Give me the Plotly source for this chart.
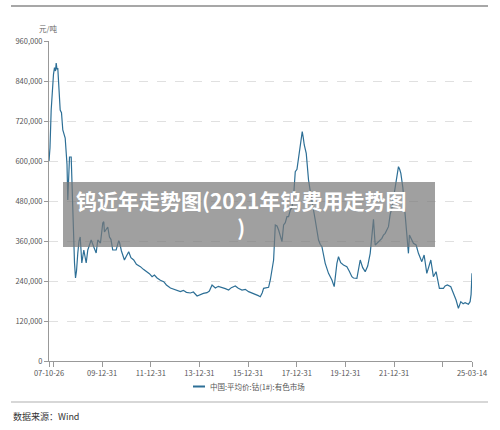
import datetime as dt
import plotly.graph_objects as go

# ---- data ----
# time as decimal years, price in 元/吨
t_years = [2007.817, 2007.857, 2007.906, 2007.960, 2008.001, 2008.042, 2008.083, 2008.112, 2008.144, 2008.177,
           2008.227, 2008.276, 2008.329, 2008.383, 2008.481, 2008.522, 2008.555, 2008.588, 2008.625, 2008.658,
           2008.727, 2008.793, 2008.863, 2008.904, 2008.945, 2008.998, 2009.048, 2009.097, 2009.163, 2009.245,
           2009.343, 2009.409, 2009.479, 2009.548, 2009.655, 2009.754, 2009.819, 2009.930, 2010.025, 2010.066,
           2010.094, 2010.156, 2010.230, 2010.300, 2010.361, 2010.435, 2010.575, 2010.681, 2010.710, 2010.792,
           2010.887, 2010.915, 2010.998, 2011.092, 2011.182, 2011.297, 2011.408, 2011.572, 2011.695, 2011.847,
           2011.942, 2012.053, 2012.147, 2012.258, 2012.393, 2012.529, 2012.640, 2012.804, 2012.927, 2013.050,
           2013.214, 2013.337, 2013.461, 2013.625, 2013.748, 2013.900, 2014.035, 2014.158, 2014.310, 2014.405,
           2014.516, 2014.651, 2014.774, 2014.926, 2015.062, 2015.197, 2015.308, 2015.472, 2015.595, 2015.747,
           2015.883, 2016.018, 2016.129, 2016.293, 2016.416, 2016.498, 2016.580, 2016.634, 2016.745, 2016.839,
           2016.909, 2016.991, 2017.044, 2017.114, 2017.184, 2017.250, 2017.319, 2017.389, 2017.455, 2017.525,
           2017.594, 2017.660, 2017.730, 2017.800, 2017.865, 2017.935, 2018.005, 2018.071, 2018.169, 2018.222,
           2018.264, 2018.305, 2018.387, 2018.481, 2018.551, 2018.621, 2018.756, 2018.892, 2018.961, 2019.031,
           2019.167, 2019.302, 2019.442, 2019.536, 2019.647, 2019.713, 2019.803, 2019.918, 2020.057, 2020.152,
           2020.263, 2020.328, 2020.468, 2020.604, 2020.706, 2020.809, 2020.911, 2021.014, 2021.149, 2021.219,
           2021.342, 2021.494, 2021.560, 2021.630, 2021.765, 2021.835, 2021.905, 2022.040, 2022.110, 2022.176,
           2022.225, 2022.274, 2022.356, 2022.451, 2022.521, 2022.586, 2022.627, 2022.697, 2022.791, 2022.902,
           2022.997, 2023.136, 2023.231, 2023.342, 2023.415, 2023.506, 2023.612, 2023.723, 2023.859, 2024.023,
           2024.093, 2024.187, 2024.327, 2024.433, 2024.544, 2024.639, 2024.737, 2024.832, 2024.914, 2025.049,
           2025.119, 2025.160, 2025.197]
price_k = [600, 640, 753, 834, 860, 880, 870, 894, 875, 879,
           800, 753, 745, 693, 669, 603, 590, 483, 560, 612,
           612, 432, 294, 249, 270, 324, 360, 372, 294, 333,
           294, 333, 350, 363, 342, 324, 363, 354, 414, 418,
           387, 395, 402, 372, 365, 333, 333, 361, 357, 330,
           312, 303, 315, 328, 310, 303, 290, 283, 275, 268,
           262, 253, 258, 249, 242, 238, 228, 219, 215, 212,
           208, 212, 206, 204, 207, 195, 200, 203, 205, 210,
           228, 219, 224, 221, 217, 213, 220, 225, 218, 213,
           215, 208, 205, 201, 196, 193, 205, 218, 220, 221,
           243, 280, 303, 408, 405, 393, 373, 358, 408, 415,
           433, 433, 453, 460, 493, 568, 575, 613, 653, 688,
           670, 648, 623, 543, 510, 483, 423, 363, 350, 343,
           293, 263, 243, 223, 293, 313, 295, 288, 283, 270,
           253, 249, 248, 303, 280, 268, 285, 323, 425, 348,
           358, 368, 378, 383, 403, 440, 458, 523, 563, 583,
           575, 563, 520, 428, 373, 323, 378, 365, 353, 348,
           323, 298, 318, 263, 280, 303, 253, 268, 218, 218,
           225, 228, 223, 203, 183, 158, 178, 172, 175, 170,
           178, 200, 263]

x_tick_dates = ["2007-10-26", "2007-12-31", "2009-12-31", "2011-12-31", "2013-12-31", "2015-12-31",
                "2017-12-31", "2019-12-31", "2021-12-31", "2023-12-31", "2025-03-14"]
x_tick_text = ["07-10-26", "", "09-12-31", "11-12-31", "13-12-31", "15-12-31",
               "17-12-31", "19-12-31", "21-12-31", "", "25-03-14"]
y_tick_vals = [0, 120000, 240000, 360000, 480000, 600000, 720000, 840000, 960000]
y_tick_text = ["0", "120,000", "240,000", "360,000", "480,000", "600,000", "720,000", "840,000", "960,000"]

series_name = "中国:平均价:钴(1#):有色市场"
unit = "元/吨"
source = "数据来源：Wind"
banner = "钨近年走势图(2021年钨费用走势图<br>)"


def to_date(t):
    y = int(t)
    a = dt.datetime(y, 1, 1)
    b = dt.datetime(y + 1, 1, 1)
    return a + (b - a) * (t - y)


dates = [to_date(t) for t in t_years]
prices = [p * 1000 for p in price_k]

LINE = "#2D6F96"
FONT = "Noto Sans CJK SC"

fig = go.Figure()
fig.add_trace(go.Scatter(x=dates, y=prices, mode="lines", name=series_name,
                         line=dict(color=LINE, width=1.2), showlegend=False))

W, H = 500, 430
L, R, T, B = 49, 28, 41, 69
pw, ph = W - L - R, H - T - B


def px(x):
    return (x - L) / pw


def py(y):
    return (H - B - y) / ph


fig.update_layout(
    width=W, height=H,
    margin=dict(l=L, r=R, t=T, b=B),
    paper_bgcolor="white", plot_bgcolor="white",
    font=dict(family=FONT, size=7.5, color="#555"),
    xaxis=dict(type="date", range=["2007-10-26", "2025-03-14"],
               tickvals=x_tick_dates, ticktext=x_tick_text,
               showgrid=False, zeroline=False,
               showline=True, linecolor="#999", linewidth=1,
               ticks="outside", ticklen=5, tickcolor="#999",
               tickfont=dict(size=7.5, color="#555")),
    yaxis=dict(range=[0, 960000], tickvals=y_tick_vals, ticktext=y_tick_text,
               showgrid=True, gridcolor="#e0e0e0", griddash="dash", gridwidth=1,
               zeroline=False, showline=True, linecolor="#999", linewidth=1,
               ticks="outside", ticklen=4, tickcolor="#999",
               tickfont=dict(size=7.5, color="#555")),
)

shapes = [
    dict(type="line", xref="paper", yref="paper", x0=px(11), x1=px(488), y0=py(6), y1=py(6),
         line=dict(color="#8a8a8a", width=1.5)),
    dict(type="line", xref="paper", yref="paper", x0=px(11), x1=px(488), y0=py(402), y1=py(402),
         line=dict(color="#b0b0b0", width=1.2)),
    dict(type="line", xref="paper", yref="paper", x0=px(193), x1=px(205), y0=py(386.5), y1=py(386.5),
         line=dict(color=LINE, width=2)),
    dict(type="rect", xref="paper", yref="paper", x0=px(63), x1=px(435), y0=py(247), y1=py(182),
         fillcolor="rgba(120,120,120,0.7)", line=dict(width=0), layer="above"),
]
fig.update_layout(shapes=shapes)

fig.add_annotation(x=px(48), y=py(29), xref="paper", yref="paper", text=unit, showarrow=False,
                   font=dict(size=7.5, color="#666", family=FONT), xanchor="center", yanchor="middle")
fig.add_annotation(x=px(208), y=py(386.5), xref="paper", yref="paper", text=series_name, showarrow=False,
                   font=dict(size=7.5, color="#555", family=FONT), xanchor="left", yanchor="middle")
fig.add_annotation(x=px(11), y=py(416.5), xref="paper", yref="paper", text=source, showarrow=False,
                   font=dict(size=9, color="#333", family=FONT), xanchor="left", yanchor="middle")
fig.add_annotation(x=px(241), y=py(213), xref="paper", yref="paper", text=banner, showarrow=False,
                   font=dict(size=21, color="white", family=FONT, weight="bold"),
                   xanchor="center", yanchor="middle", align="center")

fig.write_html("out.html")
